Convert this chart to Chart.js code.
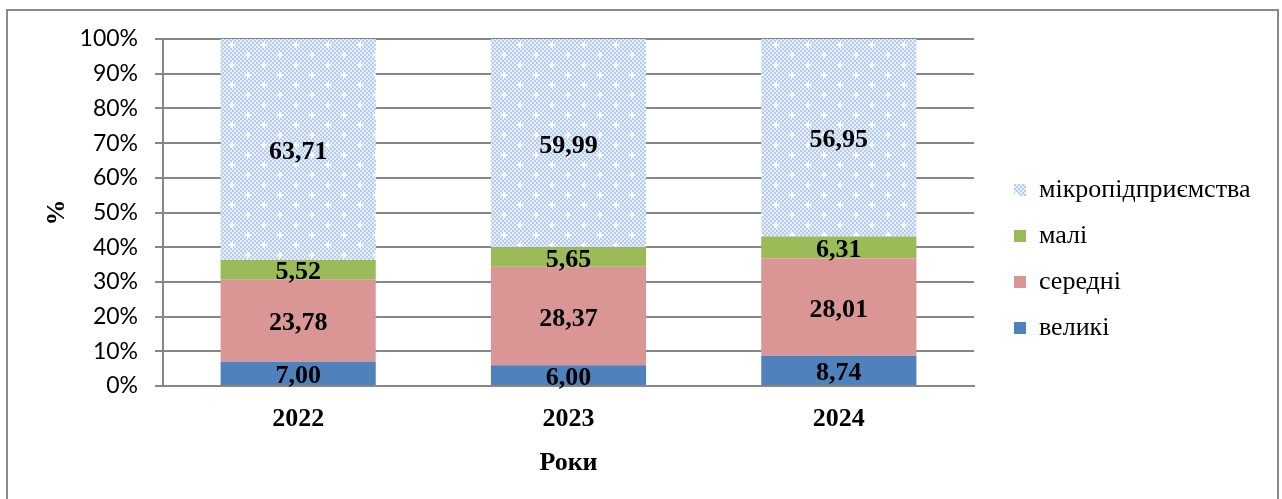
<!DOCTYPE html>
<html>
<head>
<meta charset="utf-8">
<script src="https://cdn.jsdelivr.net/npm/chart.js@4.4.1/dist/chart.umd.min.js"></script>
<style>
  html, body { margin: 0; padding: 0; background: #fff; overflow: hidden; }
  #wrap { position: relative; width: 1282px; height: 499px; }
  #frame { position: absolute; left: 6px; top: 9px; width: 1269px; height: 500px; border: 2px solid #8a8a8a; border-bottom: none; pointer-events: none; }
  canvas { position: absolute; left: 0; top: 0; }
</style>
</head>
<body>
<div id="wrap">
  <canvas id="c" width="1282" height="499"></canvas>
  <div id="frame"></div>
</div>
<script>
// ---- data ----
const categories = ['2022', '2023', '2024'];
const seriesNames = ['великі', 'середні', 'малі', 'мікропідприємства'];
const velyki = [7.00, 6.00, 8.74];
const seredni = [23.78, 28.37, 28.01];
const mali = [5.52, 5.65, 6.31];
const mikro = [63.71, 59.99, 56.95];
const yTicks = [0, 10, 20, 30, 40, 50, 60, 70, 80, 90, 100];
const xTitle = 'Роки';
const yTitle = '%';

// ---- pattern for micro ----
function makePattern() {
  const c = document.createElement('canvas');
  c.width = 32; c.height = 20;
  const g = c.getContext('2d');
  g.fillStyle = '#b6cdef';
  g.fillRect(0, 0, 32, 20);
  g.fillStyle = '#e6eefa';
  for (let y = 0; y < 20; y += 2) {
    for (let x = 0; x < 32; x += 2) {
      if (((x / 2) + (y / 2)) % 2 === 0) g.fillRect(x, y, 2, 2);
    }
  }
  g.fillStyle = '#ffffff';
  [[8, 5], [24, 15]].forEach(([cx, cy]) => {
    g.fillRect(cx - 1, cy - 3, 2, 6);
    g.fillRect(cx - 3, cy - 1, 6, 2);
  });
  const ctx = document.getElementById('c').getContext('2d');
  return ctx.createPattern(c, 'repeat');
}
const microPattern = makePattern();

const gridColor = '#878787';
const serif = '"Liberation Serif", "Times New Roman", serif';

const labelPlugin = {
  id: 'valueLabels',
  afterDatasetsDraw(chart) {
    const ctx = chart.ctx;
    ctx.save();
    ctx.font = 'bold 26px ' + serif;
    ctx.fillStyle = '#000';
    ctx.textAlign = 'center';
    ctx.textBaseline = 'middle';
    chart.data.datasets.forEach((ds, di) => {
      const meta = chart.getDatasetMeta(di);
      meta.data.forEach((el, i) => {
        const p = el.getCenterPoint();
        ctx.fillText(ds.data[i].toFixed(2).replace('.', ','), p.x, p.y + 3);
      });
    });
    ctx.restore();
  }
};

const legendShift = {
  id: 'legendShift',
  afterLayout(chart) {
    const lg = chart.legend;
    if (!lg) return;
    const dx = 994 - lg.left;
    lg.left += dx; lg.right += dx;
    const dy = 259 - (lg.top + lg.bottom) / 2;
    lg.top += dy; lg.bottom += dy;
  }
};

const chart = new Chart(document.getElementById('c'), {
  type: 'bar',
  data: {
    labels: categories,
    datasets: [
      { label: seriesNames[0], data: velyki, backgroundColor: '#4f81bd' },
      { label: seriesNames[1], data: seredni, backgroundColor: '#d99694' },
      { label: seriesNames[2], data: mali, backgroundColor: '#9bbb59' },
      { label: seriesNames[3], data: mikro, backgroundColor: microPattern }
    ]
  },
  options: {
    responsive: false,
    animation: false,
    layout: { padding: { left: 0, top: 39, right: 40, bottom: 0 } },
    datasets: { bar: { categoryPercentage: 1, barPercentage: 0.574, borderWidth: 0 } },
    plugins: {
      legend: {
        position: 'right',
        reverse: true,
        labels: {
          boxWidth: 12, boxHeight: 12, padding: 20,
          color: '#000',
          font: { family: serif, size: 26 }
        }
      },
      tooltip: { enabled: false }
    },
    scales: {
      x: {
        stacked: true,
        grid: { display: false, drawTicks: false },
        border: { display: true, color: gridColor, width: 2 },
        ticks: { color: '#000', padding: 18, font: { family: serif, size: 26, weight: 'bold' } },
        title: { display: true, text: xTitle, color: '#000', padding: { top: 0, bottom: 20 }, font: { family: serif, size: 26, weight: 'bold' } },
        afterFit(s) { s.height = 113; }
      },
      y: {
        stacked: true,
        min: 0, max: 100,
        afterBuildTicks(s) { s.ticks = yTicks.map(v => ({ value: v })); },
        grid: { color: gridColor, lineWidth: 2, drawTicks: true, tickLength: 8, tickColor: gridColor },
        border: { display: true, color: gridColor, width: 2 },
        ticks: { color: '#000', padding: 17, font: { family: 'Lato, "Open Sans", sans-serif', size: 23 }, callback: v => v + '%' },
        title: { display: true, text: yTitle, color: '#000', padding: { top: 42, bottom: 0 }, font: { family: serif, size: 26, weight: 'bold' } },
        afterFit(s) { s.width = 163; }
      }
    }
  },
  plugins: [labelPlugin, legendShift]
});

// fix the right edge of the plot area at x = 974
const diff = chart.chartArea.right - 974;
if (Math.abs(diff) > 0.5) {
  chart.options.layout.padding.right += diff;
  chart.update('none');
}
</script>
</body>
</html>
